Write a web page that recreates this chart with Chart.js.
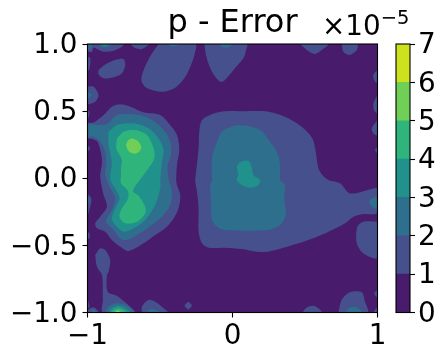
<!DOCTYPE html>
<html>
<head>
<meta charset="utf-8">
<script src="https://cdn.jsdelivr.net/npm/chart.js@4"></script>
<style>
  html, body { margin: 0; padding: 0; background: #fff; }
  #wrap { position: relative; width: 446px; height: 360px; overflow: hidden; }
  canvas { position: absolute; left: 0; top: 0; }
  #offset { position: absolute; left: 322px; top: 8px; font: 27.8px "DejaVu Sans"; line-height: 36px; color: #000; white-space: nowrap; }
  #offset sup { font-size: 19.5px; position: relative; top: -11px; vertical-align: baseline; line-height: 0; }
</style>
</head>
<body>
<div id="wrap">
  <canvas id="field" width="446" height="360"></canvas>
  <canvas id="bar" width="446" height="360"></canvas>
  <div id="offset">×10<sup>−5</sup></div>
</div>
<script>
// tick labels
const xTickLabels = ["−1", "0", "1"];
const yTickLabels = ["−1.0", "−0.5", "0.0", "0.5", "1.0"];
const barTickLabels = ["0", "1", "2", "3", "4", "5", "6", "7"];

// one colour per band between two levels (0-1, 1-2 ... 6-7), in units of 1e-5
const bandColors = ["#481b6d", "#46508c", "#2f6f8e", "#21918c", "#2fb47c", "#70cf57", "#cde11d"];
const bandWidths = [1, 1, 1, 1, 1, 1, 1];

// contour outlines, [x, y] in axis units
const level0 = [
  [[-1, -1], [1, -1], [1, 1], [-1, 1]],
];

const level1 = [
  [[-0.924, 0.806], [-0.878, 0.848], [-0.809, 0.881], [-0.751, 0.888], [-0.74, 0.844], [-0.763, 0.781], [-0.832, 0.749], [-0.889, 0.744], [-0.924, 0.774]],
  [[-0.51, 1], [-0.562, 0.918], [-0.608, 0.819], [-0.629, 0.732], [-0.595, 0.675], [-0.487, 0.645], [-0.395, 0.675], [-0.332, 0.744], [-0.291, 0.831], [-0.263, 0.918], [-0.256, 1]],
  [[-0.705, 1], [-0.67, 0.968], [-0.625, 0.963], [-0.579, 0.993], [-0.572, 1]],
  [[-1, 1], [-0.751, 1], [-0.763, 0.98], [-0.82, 0.95], [-0.889, 0.943], [-0.935, 0.963], [-0.958, 0.973], [-0.97, 0.943], [-0.993, 0.943], [-1, 0.943]],
  [[-1, 0.906], [-0.981, 0.893], [-0.985, 0.819], [-1, 0.794]],
  [[-1, 0.682], [-0.958, 0.682], [-0.924, 0.62], [-0.947, 0.57], [-1, 0.558]],
  [[-1, 0.508], [-0.986, 0.496], [-0.993, 0.446], [-1, 0.446]],
  [[-1, 0.416], [-0.958, 0.416], [-0.889, 0.471], [-0.832, 0.533], [-0.774, 0.551], [-0.705, 0.533], [-0.613, 0.491], [-0.498, 0.471], [-0.44, 0.409], [-0.383, 0.322], [-0.367, 0.21], [-0.383, 0.099], [-0.388, -0.013], [-0.383, -0.05], [-0.36, -0.125], [-0.372, -0.224], [-0.406, -0.299], [-0.464, -0.373], [-0.533, -0.423], [-0.613, -0.485], [-0.717, -0.542], [-0.774, -0.51], [-0.832, -0.46], [-0.878, -0.398], [-0.935, -0.373], [-0.947, -0.336], [-0.912, -0.286], [-0.866, -0.212], [-0.889, -0.125], [-0.907, -0.038], [-0.912, 0.024], [-0.9, 0.123], [-0.912, 0.21], [-0.935, 0.277], [-0.981, 0.297], [-1, 0.292]],
  [[-1, 0.248], [-0.981, 0.223], [-1, 0.198]],
  [[-1, -0.113], [-0.974, -0.15], [-0.981, -0.212], [-1, -0.274]],
  [[-1, -0.398], [-0.986, -0.41], [-0.986, -0.448], [-1, -0.448]],
  [[-0.947, -0.572], [-0.912, -0.522], [-0.878, -0.535], [-0.843, -0.609], [-0.855, -0.696], [-0.866, -0.721], [-0.861, -0.845], [-0.797, -0.875], [-0.751, -0.915], [-0.705, -0.957], [-0.671, -1], [-0.894, -1], [-0.894, -0.907], [-0.9, -0.721], [-0.935, -0.659]],
  [[-1, -0.895], [-0.986, -0.957], [-1, -0.969]],
  [[-1, -0.982], [-0.958, -0.962], [-0.924, -1], [-1, -1]],
  [[-0.625, -1], [-0.625, -0.957], [-0.579, -0.907], [-0.533, -0.92], [-0.487, -0.957], [-0.447, -1]],
  [[-0.332, -0.949], [-0.307, -0.922], [-0.28, -0.949], [-0.307, -0.977]],
  [[-0.194, 1], [-0.181, 0.906], [-0.142, 0.794], [-0.084, 0.719], [-0.052, 0.732], [0.017, 0.819], [0.075, 0.893], [0.091, 0.943], [0.098, 1]],
  [[-0.257, -0.013], [-0.234, 0.223], [-0.229, 0.347], [-0.21, 0.434], [-0.13, 0.483], [-0.05, 0.5], [0.063, 0.5], [0.247, 0.496], [0.362, 0.459], [0.477, 0.384], [0.551, 0.297], [0.574, 0.198], [0.592, 0.074], [0.62, 0.024], [0.661, -0.013], [0.742, -0.038], [0.81, -0.113], [0.96, -0.08], [1, -0.075], [1, -0.257], [0.903, -0.267], [0.834, -0.286], [0.776, -0.336], [0.638, -0.411], [0.454, -0.485], [0.247, -0.547], [0.167, -0.547], [0.063, -0.527], [-0.052, -0.517], [-0.165, -0.517], [-0.21, -0.485], [-0.234, -0.398], [-0.234, -0.224], [-0.245, -0.1], [-0.257, -0.026]],
  [[1, 0.806], [0.972, 0.774], [0.976, 0.732], [1, 0.707]],
  [[1, 0.62], [0.972, 0.558], [0.976, 0.508], [1, 0.483]],
  [[1, 0.434], [0.96, 0.372], [0.972, 0.334], [1, 0.322]],
  [[1, 0.235], [0.983, 0.21], [1, 0.186]],
  [[0.466, 1], [0.523, 0.948], [0.569, 0.925], [0.615, 0.955], [0.661, 1]],
  [[0.753, 1], [0.765, 0.943], [0.81, 0.918], [0.857, 0.955], [0.861, 1]],
  [[1, -0.324], [0.903, -0.324], [0.861, -0.361], [0.857, -0.485], [0.903, -0.56], [1, -0.592]],
  [[0.73, -1], [0.753, -0.907], [0.81, -0.85], [0.891, -0.85], [0.914, -0.92], [0.932, -1]],
  [[0.482, -1], [0.512, -0.962], [0.558, -0.949], [0.592, -0.969], [0.615, -1]],
  [[1, -0.833], [0.978, -0.857], [1, -0.89]],
  [[1, -0.957], [0.972, -1], [1, -1]],
];

const level2 = [
  [[-1, 1], [-0.97, 1], [-0.976, 0.968], [-1, 0.955]],
  [[-0.924, 1], [-0.832, 1], [-0.866, 0.975], [-0.9, 0.978]],
  [[-0.447, 1], [-0.41, 0.98], [-0.365, 1]],
  [[-0.096, 1], [-0.061, 0.975], [-0.027, 0.975], [-0.004, 1]],
  [[-1, 0.645], [-0.97, 0.62], [-1, 0.59]],
  [[-1, 0.402], [-0.866, 0.402], [-0.797, 0.471], [-0.648, 0.471], [-0.556, 0.434], [-0.475, 0.359], [-0.429, 0.272], [-0.424, 0.173], [-0.447, 0.099], [-0.44, -0.013], [-0.418, -0.1], [-0.429, -0.2], [-0.487, -0.286], [-0.556, -0.348], [-0.659, -0.423], [-0.728, -0.46], [-0.774, -0.448], [-0.82, -0.386], [-0.871, -0.324], [-0.832, -0.237], [-0.809, -0.15], [-0.848, -0.063], [-0.878, 0.024], [-0.871, 0.099], [-0.878, 0.198], [-0.912, 0.272], [-0.958, 0.31], [-1, 0.31]],
  [[-1, -0.137], [-0.986, -0.162], [-1, -0.2]],
  [[-0.142, -0.013], [-0.142, 0.148], [-0.107, 0.272], [-0.073, 0.347], [0.017, 0.392], [0.086, 0.392], [0.19, 0.359], [0.259, 0.272], [0.316, 0.173], [0.328, 0.074], [0.328, -0.013], [0.362, -0.05], [0.357, -0.15], [0.367, -0.274], [0.328, -0.348], [0.236, -0.386], [-0.052, -0.386], [-0.107, -0.361], [-0.142, -0.311], [-0.148, -0.175], [-0.153, -0.05]],
  [[1, -0.137], [0.96, -0.15], [0.942, -0.18], [0.972, -0.219], [1, -0.224]],
  [[-0.878, -1], [-0.855, -0.957], [-0.797, -0.932], [-0.728, -0.949], [-0.682, -1]],
  [[-0.981, -1], [-0.958, -0.982], [-0.935, -1]],
  [[-0.595, -1], [-0.556, -0.974], [-0.498, -1]],
  [[0.776, -1], [0.81, -0.962], [0.857, -0.962], [0.896, -1]],
];

const level3 = [
  [[-0.912, 1], [-0.855, 1], [-0.878, 0.988]],
  [[-0.855, 0.347], [-0.797, 0.397], [-0.682, 0.409], [-0.579, 0.372], [-0.51, 0.297], [-0.475, 0.21], [-0.487, 0.123], [-0.498, -0.013], [-0.498, -0.075], [-0.533, -0.2], [-0.602, -0.311], [-0.682, -0.373], [-0.751, -0.398], [-0.809, -0.348], [-0.832, -0.299], [-0.809, -0.224], [-0.779, -0.15], [-0.809, -0.075], [-0.843, -0.013], [-0.832, 0.123], [-0.855, 0.248]],
  [[0.029, 0.086], [0.052, 0.119], [0.109, 0.128], [0.132, 0.086], [0.144, 0.024], [0.19, -0.013], [0.178, -0.05], [0.121, -0.07], [0.063, -0.05], [0.029, -0.013], [0.04, 0.024]],
  [[-0.855, -1], [-0.832, -0.969], [-0.786, -0.949], [-0.74, -0.969], [-0.705, -1]],
];

const level4 = [
  [[-0.797, 0.297], [-0.751, 0.347], [-0.671, 0.359], [-0.59, 0.322], [-0.544, 0.223], [-0.539, 0.148], [-0.579, 0.074], [-0.613, 0.024], [-0.687, -0.095], [-0.648, -0.13], [-0.602, -0.212], [-0.602, -0.262], [-0.659, -0.324], [-0.739, -0.336], [-0.779, -0.286], [-0.763, -0.224], [-0.721, -0.15], [-0.721, -0.095], [-0.769, -0.038], [-0.769, 0.024], [-0.769, 0.074], [-0.763, 0.136], [-0.802, 0.223]],
  [[-0.843, -1], [-0.82, -0.982], [-0.786, -0.969], [-0.751, -0.982], [-0.728, -1]],
];

const level5 = [
  [[-0.735, 0.248], [-0.717, 0.285], [-0.682, 0.295], [-0.648, 0.272], [-0.629, 0.23], [-0.648, 0.193], [-0.682, 0.183], [-0.717, 0.203]],
  [[-0.82, -1], [-0.792, -0.985], [-0.763, -1]],
];

const level6 = [
  [[-0.809, -1], [-0.792, -0.992], [-0.774, -1]],
];

const tickFont = { family: "DejaVu Sans", size: 27.8 };

// closes the outline and turns it into a scatter dataset filled as a shape
function regionDataset(points, color) {
  const closed = points.concat([points[0]]);
  return {
    data: closed.map((p) => ({ x: p[0], y: p[1] })),
    showLine: true,
    fill: "shape",
    backgroundColor: color,
    borderWidth: 0,
    pointRadius: 0,
    tension: 0.3,
  };
}

// the filler paints the last dataset first, so the highest level goes first
const levels = [level0, level1, level2, level3, level4, level5, level6];
const fieldDatasets = [];
for (let i = levels.length - 1; i >= 0; i--) {
  levels[i].forEach((points) => fieldDatasets.push(regionDataset(points, bandColors[i])));
}

const frame = {
  id: "frame",
  afterDraw(chart) {
    const { ctx, chartArea } = chart;
    ctx.save();
    ctx.strokeStyle = "#000";
    ctx.lineWidth = 1.1;
    ctx.strokeRect(chartArea.left, chartArea.top, chartArea.right - chartArea.left, chartArea.bottom - chartArea.top);
    ctx.restore();
  },
};

const tickGrid = { drawOnChartArea: false, drawTicks: true, tickLength: 5, tickColor: "#000", tickWidth: 1.1 };

new Chart(document.getElementById("field").getContext("2d"), {
  type: "scatter",
  data: { datasets: fieldDatasets },
  options: {
    responsive: false,
    animation: false,
    layout: { padding: { right: 68.5 } },
    plugins: {
      legend: { display: false },
      tooltip: { enabled: false },
      title: {
        display: true,
        text: "p - Error",
        fullSize: false,
        color: "#000",
        font: { family: "DejaVu Sans", size: 32, weight: "normal", lineHeight: 1 },
        padding: { top: 8, bottom: 4 },
      },
    },
    scales: {
      x: {
        min: -1,
        max: 1,
        border: { display: false },
        grid: tickGrid,
        ticks: {
          stepSize: 1,
          color: "#000",
          font: tickFont,
          padding: 3,
          maxRotation: 0,
          callback: (value, index) => xTickLabels[index],
        },
        afterFit(scale) { scale.height = 47.5; },
      },
      y: {
        min: -1,
        max: 1,
        border: { display: false },
        grid: tickGrid,
        ticks: {
          stepSize: 0.5,
          color: "#000",
          font: tickFont,
          padding: 5,
          labelOffset: 2,
          callback: (value, index) => yTickLabels[index],
        },
        afterFit(scale) { scale.width = 87.5; },
      },
    },
  },
  plugins: [frame],
});

// colour bar, one stacked bar per band
new Chart(document.getElementById("bar").getContext("2d"), {
  type: "bar",
  data: {
    labels: [""],
    datasets: bandWidths.map((w, i) => ({ data: [w], backgroundColor: bandColors[i], barPercentage: 1, categoryPercentage: 1 })),
  },
  options: {
    responsive: false,
    animation: false,
    layout: { padding: { left: 396, top: 44, bottom: 47.5 } },
    plugins: { legend: { display: false }, tooltip: { enabled: false } },
    scales: {
      x: { stacked: true, display: false },
      y: {
        stacked: true,
        position: "right",
        min: 0,
        max: 7,
        border: { display: false },
        grid: tickGrid,
        ticks: {
          stepSize: 1,
          color: "#000",
          font: tickFont,
          padding: 3,
          labelOffset: 2,
          callback: (value, index) => barTickLabels[index],
        },
        afterFit(scale) { scale.width = 36; },
      },
    },
  },
  plugins: [frame],
});
</script>
</body>
</html>
